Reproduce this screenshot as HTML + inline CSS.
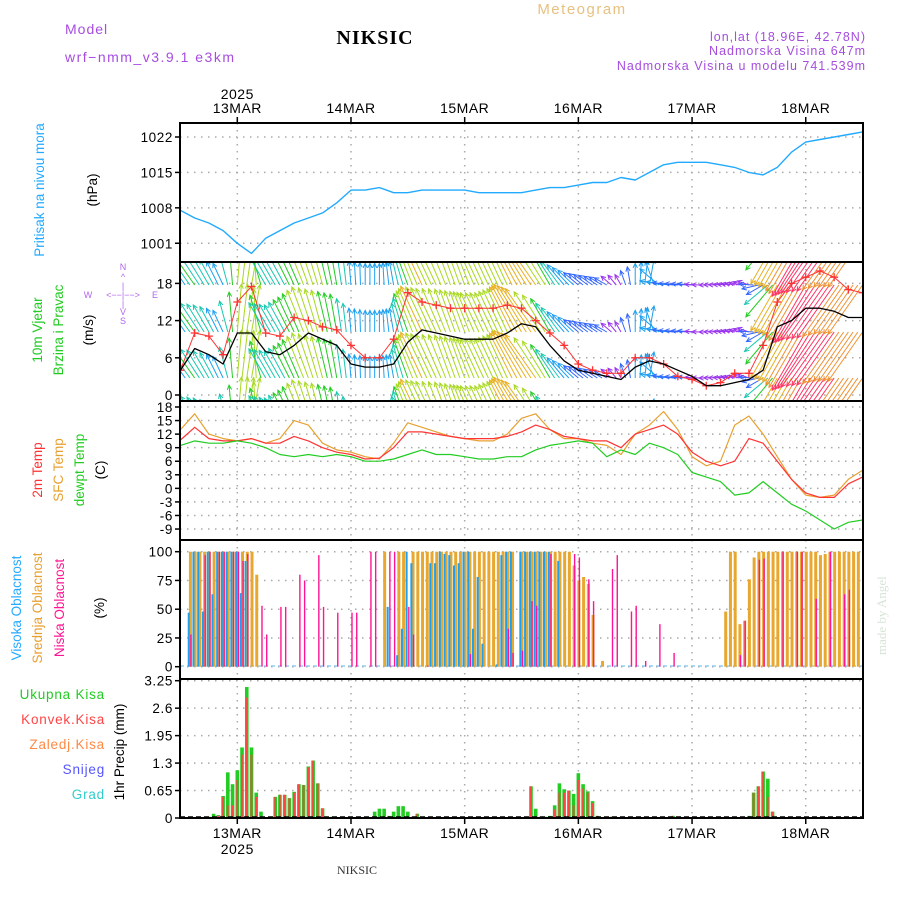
<!DOCTYPE html>
<html><head><meta charset="utf-8">
<style>
html,body{margin:0;padding:0;background:#fff;}
svg{display:block;font-family:"Liberation Sans",sans-serif;}
</style></head>
<body>
<svg id="chart" width="900" height="900" viewBox="0 0 900 900" xmlns="http://www.w3.org/2000/svg">
<defs>
<clipPath id="cp-wind"><rect x="180" y="262" width="683" height="139"/></clipPath>
<clipPath id="cp-all"><rect x="180" y="123" width="683" height="695"/></clipPath>
</defs>
<g>
<text x="65" y="34" font-size="14" fill="#a64de0" letter-spacing="1">Model</text>
<text x="65" y="62" font-size="14" fill="#a64de0" letter-spacing="1.5">wrf−nmm_v3.9.1 e3km</text>
<text x="375" y="44" font-size="20" font-weight="bold" text-anchor="middle" font-family="Liberation Serif, serif" letter-spacing="1">NIKSIC</text>
<text x="582" y="14" font-size="15" fill="#e8c080" text-anchor="middle" letter-spacing="1.5">Meteogram</text>
<text x="866" y="41" font-size="12.5" fill="#a64de0" text-anchor="end" letter-spacing="1">lon,lat (18.96E, 42.78N)</text>
<text x="866" y="55" font-size="12.5" fill="#a64de0" text-anchor="end" letter-spacing="1">Nadmorska Visina 647m</text>
<text x="866" y="70" font-size="12.5" fill="#a64de0" text-anchor="end" letter-spacing="1">Nadmorska Visina u modelu 741.539m</text>
<text x="357" y="874" font-size="12" font-family="Liberation Serif, serif" text-anchor="middle" fill="#333">NIKSIC</text>
<text transform="translate(886,655) rotate(-90)" font-size="13" fill="#d8e4d8" font-family="Liberation Serif, serif">made by Angel</text>
</g>
<g>
<text transform="translate(44,190) rotate(-90)" font-size="13.5" fill="#22aaff" text-anchor="middle">Pritisak na nivou mora</text>
<text transform="translate(97,190) rotate(-90)" font-size="13.5" text-anchor="middle">(hPa)</text>
<text transform="translate(42,330) rotate(-90)" font-size="13.5" fill="#22cc22" text-anchor="middle">10m Vjetar</text>
<text transform="translate(63,330) rotate(-90)" font-size="13.5" fill="#22cc22" text-anchor="middle">Brzina i Pravac</text>
<text transform="translate(93,330) rotate(-90)" font-size="13.5" text-anchor="middle">(m/s)</text>
<g fill="#b266ee" font-size="9" text-anchor="middle">
<text x="123" y="270">N</text>
<text x="123" y="280">^</text>
<text x="123" y="289">|</text>
<text x="88" y="298">W</text>
<text x="123" y="298">&lt;−−|−−&gt;</text>
<text x="155" y="298">E</text>
<text x="123" y="307">|</text>
<text x="123" y="315">V</text>
<text x="123" y="324">S</text>
</g>
<text transform="translate(42,470) rotate(-90)" font-size="13.5" fill="#ff3333" text-anchor="middle">2m Temp</text>
<text transform="translate(63,470) rotate(-90)" font-size="13.5" fill="#e8a030" text-anchor="middle">SFC Temp</text>
<text transform="translate(84,470) rotate(-90)" font-size="13.5" fill="#22cc22" text-anchor="middle">dewpt Temp</text>
<text transform="translate(105,470) rotate(-90)" font-size="13.5" text-anchor="middle">(C)</text>
<text transform="translate(21,608) rotate(-90)" font-size="13.5" fill="#22aaff" text-anchor="middle">Visoka Oblacnost</text>
<text transform="translate(42,608) rotate(-90)" font-size="13.5" fill="#e8a030" text-anchor="middle">Srednja Oblacnost</text>
<text transform="translate(64,608) rotate(-90)" font-size="13.5" fill="#ff1493" text-anchor="middle">Niska Oblacnost</text>
<text transform="translate(104,608) rotate(-90)" font-size="13.5" text-anchor="middle">(%)</text>
<g font-size="13.5" text-anchor="end" letter-spacing="0.8">
<text x="105" y="699" fill="#22cc22">Ukupna  Kisa</text>
<text x="105" y="724" fill="#ff4444">Konvek.Kisa</text>
<text x="105" y="749" fill="#ff8844">Zaledj.Kisa</text>
<text x="105" y="774" fill="#5555ff">Snijeg</text>
<text x="105" y="799" fill="#33cccc">Grad</text>
</g>
<text transform="translate(124,752) rotate(-90)" font-size="13.5" text-anchor="middle">1hr Precip (mm)</text>
</g>
<g id="grid"></g>
<g id="marks" clip-path="url(#cp-all)"></g>
<g id="frames"></g>
</svg>
<script>
// ---- time axis data ----
const dayLabels = ["13MAR","14MAR","15MAR","16MAR","17MAR","18MAR"];
const dayHours = [12,36,60,84,108,132];
const hours3 = [0,3,6,9,12,15,18,21,24,27,30,33,36,39,42,45,48,51,54,57,60,63,66,69,72,75,78,81,84,87,90,93,96,99,102,105,108,111,114,117,120,123,126,129,132,135,138,141,144];
// ---- pressure ----
const pressTicks = [1022,1015,1008,1001];
const pressure = [1007.5,1006,1005,1003.5,1001,999,1002,1003.5,1005,1006,1007,1009,1011.5,1011.5,1012,1011,1011,1011.5,1011.5,1011.5,1011.5,1011,1011,1011,1011,1011.5,1012,1012,1012.5,1013,1013,1014,1013.5,1015,1016.5,1017,1017,1017,1016.5,1016,1015,1014.5,1016,1019,1021,1021.5,1022,1022.5,1023];
// ---- wind ----
const windTicks = [18,12,6,0];
const windSpeed = [4,7.5,6.5,5,10,10,7,6.5,8,10,9,8,5,4.5,4.5,5,8.5,10.5,10,9.5,9,9,9,10,11.5,11,8,5.5,4,3.5,3,2.5,4.5,5.5,5,4,3,1.5,1.5,2,2.5,4,11,12,14,14,13.5,12.5,12.5];
const windGust = [4,10,9.5,6.5,15,17.5,10,9.5,12.5,12,11,10.5,8,6,6,9,16.5,15,14.5,14,14,14,14,14.5,14,12,10,8,5,4,3.5,3.5,6,6,5,3,2.5,1.5,2,3.5,3.5,8,15,18,19,20,19,17,16.5];
const windDir = [-35,-35,-30,-25,5,10,-30,-30,-25,-20,-15,-10,-5,0,0,-10,-20,-25,-25,-20,-20,-25,-25,-25,-30,-35,-30,-40,-50,-55,-60,-30,0,10,-80,-85,-85,-90,-85,-80,-70,-120,-150,-150,-150,-145,-145,-145,-145];
// ---- temperature ----
const tempTicks = [18,15,12,9,6,3,0,-3,-6,-9];
const temp2m = [10.7,13.5,11,10.5,10.5,11,10,10,11.5,10.5,9,8,7.5,6.5,6.7,9,12.5,12.5,12,11.5,11,11,11,11.5,12.5,14,13,11.5,11,10.5,10.5,9,12,13,14,12,8,6,5,6,11,10,6,2,-1,-2,-2,1,2.5];
const tempSfc = [13,16.5,12,11,10.5,11,10,11,15,14,10,8.5,8,7,6.5,10,14.5,13.5,12.5,11.5,11,10.5,10.5,12,15.5,16.5,13,11,11,10,9.5,7.5,12,14,17,13,7,5,6,14,16,12,7,2,-1.5,-2,-1.5,2,4];
const tempDew = [9.5,10.5,10,10,10.5,10,9,7.5,7,7.5,7,7.5,7,6,6,6.5,7.5,8.5,7.5,7.5,7,6.5,6.5,7,7,8.5,9.5,10,10.5,10,7,8.5,7.5,10,9,7.5,3.5,2.5,1.5,-1.5,-1,1.5,-1,-3.5,-5,-7,-9,-7.5,-7];
// ---- cloud cover ----
const cloudTicks = [100,75,50,25,0];
const highHours = [2,3,4,5,6,7,8,9,10,11,12,13,14,44,46,47,48,49,53,54,55,56,57,58,59,60,61,62,63,64,67,68,69,70,72,73,74,75,76,77,78,80];
const highVals = [47,100,100,48,100,63,100,100,100,100,100,64,92,52,10,33,100,90,90,90,100,98,97,88,90,100,100,33,78,20,2,97,100,100,100,100,100,100,100,100,100,92];
const midHours = [2,3,4,5,6,7,8,9,10,11,12,13,14,15,16,43,46,47,49,50,51,52,53,54,55,56,57,58,59,60,61,62,63,64,65,66,67,68,69,70,72,73,74,75,76,77,78,79,80,81,82,83,84,85,86,87,89,115,116,117,118,119,120,121,122,123,124,125,126,127,128,129,130,131,132,133,134,135,136,137,138,139,140,141,142,143];
const midVals = [100,100,100,100,100,100,100,100,100,100,100,100,100,100,80,100,100,100,100,100,100,100,100,100,100,100,100,100,100,100,100,100,100,100,100,100,100,100,100,100,100,100,100,100,100,100,100,100,100,100,100,88,75,78,72,45,5,48,100,100,37,40,76,95,100,100,100,100,100,100,100,100,100,100,100,100,100,97,98,100,100,100,100,100,100,100];
const lowHours = [2,5,6,8,9,11,12,13,14,17,18,21,22,25,26,29,30,33,36,37,40,41,44,45,48,49,52,61,69,70,72,74,75,78,83,84,86,87,91,92,95,96,98,101,104,118,119,122,123,127,130,131,134,137,140,141];
const lowVals = [28,97,100,100,100,100,100,92,98,53,28,52,52,80,75,97,52,47,47,47,100,100,100,100,52,28,1,11,33,12,14,57,53,98,98,95,76,57,85,97,48,53,5,37,12,10,40,93,94,100,100,100,59,100,63,67];
// ---- precipitation ----
const precipTicks = [3.25,2.6,1.95,1.3,0.65,0];
const precipHours = [5,6,7,8,9,10,11,12,13,14,15,16,17,19,20,21,22,23,24,25,26,27,28,29,30,32,41,42,43,44,45,46,47,48,49,50,51,74,75,76,77,78,79,80,81,82,83,84,85,86,87,88,91,92,104,120,121,122,123,124,125];
const precipTotal = [0.02,0.03,0.1,0.07,0.52,1.08,0.8,1.13,1.67,3.1,1.67,0.6,0.15,0.03,0.5,0.55,0.55,0.47,0.62,0.8,0.78,1.22,1.36,0.82,0.23,0.03,0.15,0.22,0.22,0.05,0.15,0.28,0.28,0.15,0.03,0.1,0.02,0.75,0.22,0.03,0.03,0.05,0.3,0.82,0.68,0.65,0.57,1.06,0.8,0.63,0.4,0.05,0.03,0.02,0.05,0.05,0.6,0.75,1.1,0.93,0.15];
const precipConv = [0,0.02,0.03,0.05,0.5,0.3,0.3,0.9,1.5,2.85,1.5,0.5,0,0.03,0.5,0.55,0.55,0.47,0.6,0.8,0.78,1.2,1.36,0.82,0.23,0,0,0,0,0,0,0,0,0,0,0.1,0.01,0.75,0,0,0,0,0.2,0.6,0.6,0.65,0.3,0.9,0.7,0.6,0.35,0.05,0.03,0,0.05,0.03,0.6,0.75,1.1,0.5,0.15];

const NS = "http://www.w3.org/2000/svg";
const X0 = 180, X1 = 863;
function xs(t){ return 237.3 + (t - 12) * 4.737; }
function yP(v){ return 137 + (1022 - v) * 5.06; }
function yW(v){ return 395 - v * 6.2; }
function yT(v){ return 407 + (18 - v) * 4.52; }
function yC(v){ return 666.7 - v * 1.15; }
function yR(v){ return 818 - v * (137.3 / 3.25); }
const panels = [
  {name:"pressure", top:123, bot:262, ticks:pressTicks, f:yP, fmt:v=>String(v)},
  {name:"wind", top:262, bot:401, ticks:windTicks, f:yW, fmt:v=>String(v)},
  {name:"temperature", top:401, bot:540, ticks:tempTicks, f:yT, fmt:v=>String(v)},
  {name:"cloud", top:540, bot:679, ticks:cloudTicks, f:yC, fmt:v=>String(v)},
  {name:"precip", top:679, bot:818, ticks:precipTicks, f:yR, fmt:v=>String(v)}
];
function mk(tag, attrs, parent){
  const e = document.createElementNS(NS, tag);
  for (const k in attrs) e.setAttribute(k, attrs[k]);
  parent.appendChild(e);
  return e;
}
const grid = document.getElementById("grid");
const marks = document.getElementById("marks");
const frames = document.getElementById("frames");

panels.forEach(p => {
  p.ticks.forEach(v => {
    const y = p.f(v);
    const gl = mk("line", {x1:X0, x2:X1, y1:y, y2:y, stroke:"#aaa", "stroke-width":1.5, "stroke-dasharray":"1.5,5.5"}, grid);
    
    
    const tk = mk("line", {x1:X0-5, x2:X0, y1:y, y2:y, stroke:"#000", "stroke-width":1.5}, frames);
    
    
    const lb = mk("text", {x:X0-7, y:y+5, "font-size":13.5, "text-anchor":"end", "letter-spacing":"0.6"}, frames);
    lb.textContent = p.fmt(v);
    
    
  });
  dayHours.forEach(h => {
    const vl = mk("line", {x1:xs(h), x2:xs(h), y1:p.top, y2:p.bot, stroke:"#aaa", "stroke-width":1.5, "stroke-dasharray":"1.5,5.5"}, grid);
    
    
  });
});

dayHours.forEach((h, i) => {
  const x = xs(h);
  const t1 = mk("text", {x:x, y:113, "font-size":14, "text-anchor":"middle", "letter-spacing":"0.5"}, frames);
  t1.textContent = dayLabels[i];
  
  
  const t2 = mk("text", {x:x, y:838, "font-size":14, "text-anchor":"middle", "letter-spacing":"0.5"}, frames);
  t2.textContent = dayLabels[i];
  
  
  const k1 = mk("line", {x1:x, x2:x, y1:117, y2:123, stroke:"#000", "stroke-width":1.5}, frames);
  
  
  const k2 = mk("line", {x1:x, x2:x, y1:818, y2:824, stroke:"#000", "stroke-width":1.5}, frames);
  
  
});
const yr1 = mk("text", {x:xs(12), y:99, "font-size":14, "text-anchor":"middle", "letter-spacing":"0.5"}, frames);
yr1.textContent = "2025";


const yr2 = mk("text", {x:xs(12), y:854, "font-size":14, "text-anchor":"middle", "letter-spacing":"0.5"}, frames);
yr2.textContent = "2025";



function poly(vals, f, color, name, w){
  const pts = vals.map((v, i) => xs(hours3[i]).toFixed(1) + "," + f(v).toFixed(1)).join(" ");
  const pl = mk("polyline", {points:pts, fill:"none", stroke:color, "stroke-width":w || 1.3, "stroke-linejoin":"round"}, marks);
  
  
}

poly(pressure, yP, "#22aaff", "pressure-line", 1.4);

const windG = mk("g", {"clip-path":"url(#cp-wind)"}, marks);


function interp(arr, t){
  const i = Math.min(Math.floor(t / 3), arr.length - 2);
  const f = (t - hours3[i]) / 3;
  return arr[i] + (arr[i+1] - arr[i]) * f;
}
function windColor(s){
  if (s < 3) return "#9933ee";
  if (s < 4.5) return "#3366ff";
  if (s < 6) return "#1ea0f0";
  if (s < 7.5) return "#18c8b0";
  if (s < 9) return "#22cc22";
  if (s < 10.5) return "#a8d820";
  if (s < 12.5) return "#e8b020";
  if (s < 13.5) return "#f09030";
  return "#ff3366";
}
const bases = [238, 285, 332, 378, 425];
for (let h = 0; h <= 144; h++) {
  const s = interp(windSpeed, h), d = interp(windDir, h) * Math.PI / 180;
  const L = Math.max(7, s * 4.8);
  const col = windColor(s);
  const x = xs(h);
  bases.forEach(b => {
    const tx = x + L * Math.sin(d), ty = b - L * Math.cos(d);
    const ln = mk("line", {x1:x, y1:b, x2:tx, y2:ty, stroke:col, "stroke-width":1}, windG);
    
    
    const a1 = d + Math.PI - 0.45, a2 = d + Math.PI + 0.45;
    const hd = mk("polyline", {points:(tx + 5*Math.sin(a1)) + "," + (ty - 5*Math.cos(a1)) + " " + tx + "," + ty + " " + (tx + 5*Math.sin(a2)) + "," + (ty - 5*Math.cos(a2)), fill:"none", stroke:col, "stroke-width":1}, windG);
    
    
  });
}
windGust.forEach((g, i) => {
  const x = xs(hours3[i]), y = yW(g);
  const pl = mk("path", {d:"M" + (x-4) + "," + y + "h8M" + x + "," + (y-4) + "v8", stroke:"#ff3333", "stroke-width":1.3}, windG);
  
  
});
const gl = mk("polyline", {points:windGust.map((g, i) => xs(hours3[i]) + "," + yW(g)).join(" "), fill:"none", stroke:"#ff3333", "stroke-width":1}, windG);


poly(windSpeed, yW, "#000", "wind-speed-line", 1.3);

poly(tempSfc, yT, "#e8a030", "sfc-temp-line", 1.2);
poly(temp2m, yT, "#ff3333", "temp-2m-line", 1.2);
poly(tempDew, yT, "#22cc22", "dewpoint-line", 1.2);

const zl = mk("line", {x1:X0, x2:X1, y1:666, y2:666, stroke:"#7fc4ee", "stroke-width":1.2, "stroke-dasharray":"4,3"}, marks);


function bars(hrs, vals, color, dx, w, name){
  hrs.forEach((h, i) => {
    const y = yC(vals[i]);
    const r = mk("rect", {x:xs(h) + dx, y:y, width:w, height:Math.max(0.5, 666.7 - y), fill:color}, marks);
    
    
  });
}
bars(midHours, midVals, "#e8a830", -1, 3, "mid-cloud-bar");
bars(highHours, highVals, "#1ea0f0", -2.2, 2, "high-cloud-bar");
bars(lowHours, lowVals, "#ff1493", 0.3, 1.4, "low-cloud-bar");

precipHours.forEach((h, i) => {
  const x = xs(h);
  const yt = yR(precipTotal[i]);
  const r1 = mk("rect", {x:x - 1.8, y:yt, width:3.6, height:818 - yt, fill:"#22cc22"}, marks);
  
  
  const yc = yR(precipConv[i]);
  const r2 = mk("rect", {x:x - 1, y:yc, width:1.8, height:818 - yc, fill:"#ff4444"}, marks);
  
  
});
const pz = mk("line", {x1:X0, x2:X1, y1:817, y2:817, stroke:"#000", "stroke-width":1.5, "stroke-dasharray":"5,3"}, marks);



panels.forEach(p => {
  const fr = mk("rect", {x:X0, y:p.top, width:X1 - X0, height:p.bot - p.top, fill:"none", stroke:"#000", "stroke-width":2}, frames);
  
  
});
</script>
</body></html>
